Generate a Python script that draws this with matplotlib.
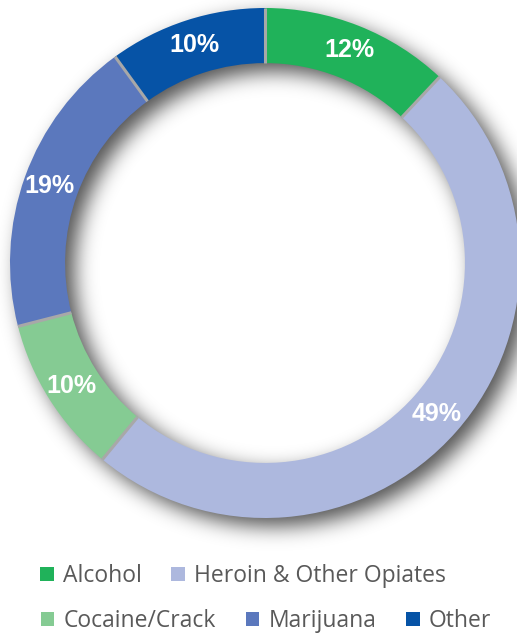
import numpy as np
import matplotlib
matplotlib.use("Agg")
import matplotlib.pyplot as plt
from matplotlib.patches import Patch
from matplotlib import font_manager

# datos
categorias = ["Alcohol", "Heroin & Other Opiates", "Cocaine/Crack", "Marijuana", "Other"]
valores = [12, 49, 10, 19, 10]
colores = ["#20B25A", "#ADB8DE", "#85CB93", "#5B78BD", "#0653A6"]

W, H = 517, 635
fig = plt.figure(figsize=(W / 100, H / 100), dpi=100)

# ejes: 1 unidad = radio exterior (255 px), centro en (265, 263) px desde arriba
R = 255.0
cx, cy = 265.0, H - 263.0
lim = 1.15
ax = fig.add_axes([(cx - lim * R) / W, (cy - lim * R) / H, 2 * lim * R / W, 2 * lim * R / H])

ancho = 0.216

wedges, _ = ax.pie(
    valores,
    colors=colores,
    startangle=90,
    counterclock=False,
    radius=1.0,
    wedgeprops=dict(width=ancho, edgecolor="none", linewidth=0),
)
for w in wedges:
    w.set_zorder(2)

ax.set_xlim(-lim, lim)
ax.set_ylim(-lim, lim)
ax.set_aspect("equal")
ax.axis("off")

# separadores grises entre sectores
total = sum(valores)
acum = 0
for v in valores:
    ang = np.radians(90 - 360 * acum / total)
    acum += v
    ax.plot([(1 - ancho) * np.cos(ang), np.cos(ang)], [(1 - ancho) * np.sin(ang), np.sin(ang)],
            color="#a8a8a8", lw=2.2, solid_capstyle="butt", zorder=2.5)

# sombra difusa del anillo (desplazada abajo-derecha)
n = 720
g = np.linspace(-lim, lim, n)
X, Y = np.meshgrid(g, g)
off = 0.035
rr = np.hypot(X - off, Y + off)
mask = ((rr <= 1.0) & (rr >= 1.0 - ancho)).astype(float)
sigma = 0.04 / (g[1] - g[0])
k = np.arange(-int(3 * sigma), int(3 * sigma) + 1)
kern = np.exp(-0.5 * (k / sigma) ** 2)
kern /= kern.sum()
blur = np.apply_along_axis(lambda m: np.convolve(m, kern, mode="same"), 0, mask)
blur = np.apply_along_axis(lambda m: np.convolve(m, kern, mode="same"), 1, blur)
rgba = np.zeros((n, n, 4))
rgba[..., :3] = 0.0
rgba[..., 3] = 0.68 * blur
ax.imshow(rgba, extent=(-lim, lim, -lim, lim), origin="lower", zorder=0)

# etiquetas de porcentaje
nombres = {f.name for f in font_manager.fontManager.ttflist}
fuente = "Liberation Sans Narrow" if "Liberation Sans Narrow" in nombres else "Liberation Sans"
tam = 20 if fuente == "Liberation Sans Narrow" else 18
acum = 0
for v in valores:
    mid = 90 - 360 * (acum + v / 2) / total
    acum += v
    r = 1.0 - ancho / 2 + 0.005
    ax.text(r * np.cos(np.radians(mid)), r * np.sin(np.radians(mid)), f"{v}%",
            ha="center", va="center", color="white", fontsize=tam, fontweight="bold",
            family=[fuente, "DejaVu Sans"], zorder=3)

# leyenda en dos filas
handles = [Patch(facecolor=c, edgecolor="none") for c in colores]
estilo = dict(frameon=False, handlelength=0.6, handleheight=0.6,
              handletextpad=0.4, columnspacing=1.3, labelcolor="#595959",
              prop={"family": "Open Sans", "size": 16.5}, loc="center")
fig.legend(handles[:2], categorias[:2], ncol=2, bbox_to_anchor=(243 / W, 1 - 576 / H), **estilo)
fig.legend(handles[2:], categorias[2:], ncol=3, bbox_to_anchor=(266 / W, 1 - 621 / H), **estilo)

fig.savefig("out.png", dpi=100, facecolor="white")
